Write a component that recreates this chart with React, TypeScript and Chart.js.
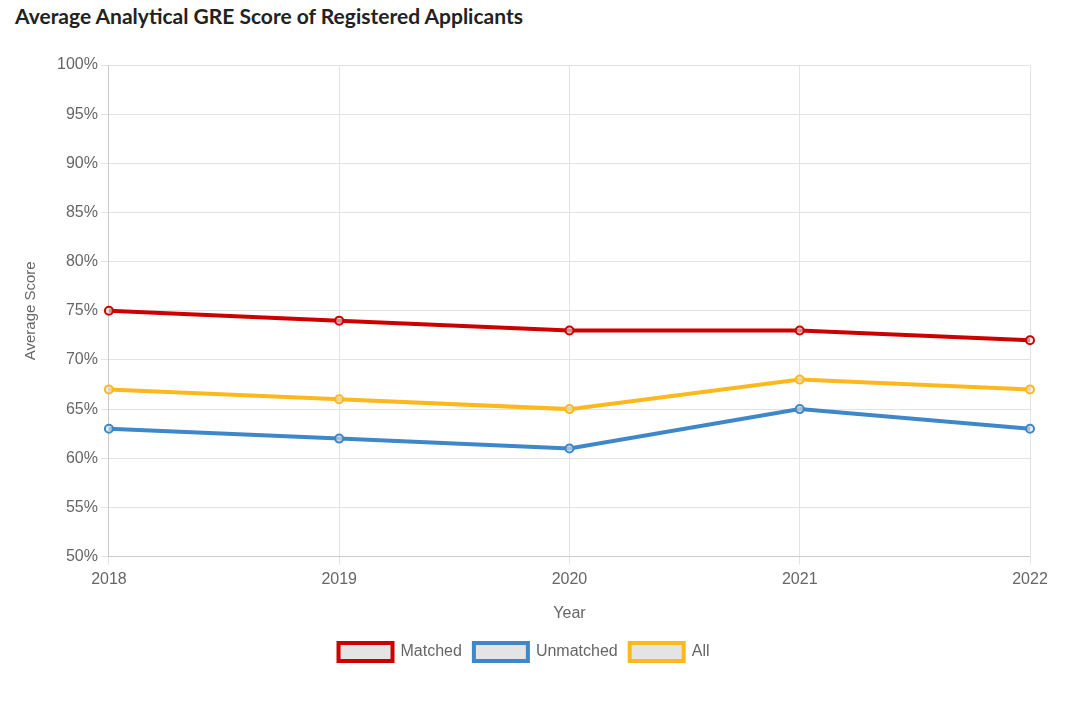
import React, { useEffect, useRef } from "react";
import { Chart, registerables } from "chart.js";

Chart.register(...registerables);

const years = ["2018", "2019", "2020", "2021", "2022"];
const matched = [75, 74, 73, 73, 72];
const unmatched = [63, 62, 61, 65, 63];
const allApplicants = [67, 66, 65, 68, 67];

const RED = "#cc0000";
const BLUE = "#3e87c8";
const YELLOW = "#fdb81e";
const FILL = "rgba(228,228,228,1)";

export default function App() {
  const ref = useRef<HTMLCanvasElement | null>(null);
  useEffect(() => {
    if (!ref.current) return;
    const mk = (label: string, data: number[], color: string) => ({
      label,
      data,
      borderColor: color,
      backgroundColor: FILL,
      borderWidth: 4,
      pointRadius: 4,
      pointBorderWidth: 2,
      pointBackgroundColor: "rgba(228,228,228,0.6)",
      pointBorderColor: color,
      tension: 0,
      fill: false,
    });
    const chart = new Chart(ref.current, {
      type: "line",
      data: {
        labels: years,
        datasets: [
          mk("Matched", matched, RED),
          mk("Unmatched", unmatched, BLUE),
          mk("All", allApplicants, YELLOW),
        ],
      },
      options: {
        animation: false,
        responsive: true,
        maintainAspectRatio: false,
        layout: { padding: { left: 10, right: 41, top: 13, bottom: 0 } },
        scales: {
          x: {
            title: { display: true, text: "Year", color: "#666", font: { size: 16 }, padding: { top: 10, bottom: 8 } },
            ticks: { color: "#666", font: { size: 16 }, padding: 5 },
            grid: { color: "#e3e3e3" },
          },
          y: {
            min: 50,
            max: 100,
            ticks: { stepSize: 5, color: "#666", font: { size: 16 }, callback: (v: any) => v + "%" },
            title: { display: true, text: "Average Score", color: "#666", font: { size: 15 }, padding: { top: 4, bottom: 14 } },
            grid: { color: "#e3e3e3" },
          },
        },
        plugins: {
          legend: {
            position: "bottom",
            labels: {
              color: "#666",
              font: { size: 16 },
              boxWidth: 54,
              boxHeight: 18,
              padding: 12,
            },
          },
          tooltip: { enabled: false },
        },
      },
    });
    return () => chart.destroy();
  }, []);

  return (
    <div style={{ position: "relative", width: 1063, height: 686 }}>
      <div
        style={{
          position: "absolute",
          left: 7,
          top: -5,
          fontFamily: "Lato, 'Open Sans', sans-serif",
          fontWeight: 700,
          fontSize: 21,
          color: "#222",
        }}
      >
        Average Analytical GRE Score of Registered Applicants
      </div>
      <div style={{ position: "absolute", left: 0, top: 44, width: 1063, height: 619 }}>
        <canvas ref={ref} />
      </div>
    </div>
  );
}
